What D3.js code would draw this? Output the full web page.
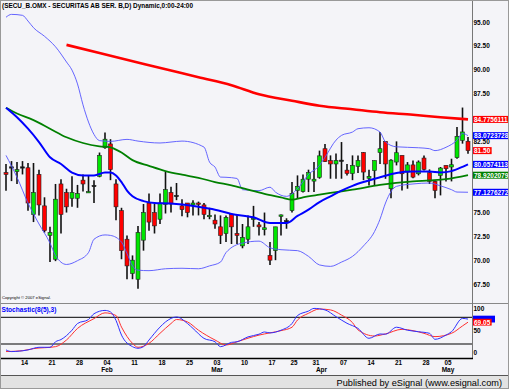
<!DOCTYPE html>
<html>
<head>
<meta charset="utf-8">
<script src="https://cdn.jsdelivr.net/npm/d3@7"></script>
<style>
  body { margin: 0; background: #fff; }
  svg { display: block; font-family: "Liberation Sans", Arial, sans-serif; }
</style>
</head>
<body>
<div id="chart"></div>
<script>
// trading days, 2008 (MM-DD)
const dates = [
  "01-09","01-10","01-11","01-14","01-15","01-16","01-17","01-18","01-21","01-22",
  "01-23","01-24","01-25","01-28","01-29","01-30","01-31","02-01","02-04","02-05",
  "02-06","02-07","02-08","02-11","02-12","02-13","02-14","02-15","02-18","02-19",
  "02-20","02-21","02-22","02-25","02-26","02-27","02-28","02-29","03-03","03-04",
  "03-05","03-06","03-07","03-10","03-11","03-12","03-13","03-14","03-17","03-18",
  "03-19","03-20","03-25","03-26","03-27","03-28","03-31","04-01","04-02","04-03",
  "04-04","04-07","04-08","04-09","04-10","04-11","04-14","04-15","04-16","04-17",
  "04-18","04-21","04-22","04-23","04-24","04-25","04-28","04-29","04-30","05-02",
  "05-05","05-06","05-07","05-08","05-09"
];

const openP = [
  79.2, 79.8, 79.3, 79.8, 79.7, 74.8, 79.0, 75.7, 72.6, 70.1,
  78.0, 77.1, 76.5, 76.5, 78.4, 77.1, 77.85, 78.8, 81.8, 82.2,
  78.0, 75.2, 72.2, 68.6, 68.0, 72.1, 76.0, 75.0, 74.3, 75.85,
  77.1, 76.8, 75.7, 76.0, 75.8, 76.0, 75.8, 74.6, 74.2, 73.5,
  72.8, 74.8, 72.8, 71.5, 72.2, 74.3, 73.7, 73.2, 70.5, 71.0,
  74.6, 74.15, 75.2, 77.3, 77.2, 78.5, 78.3, 78.7, 81.7, 80.45,
  80.1, 80.5, 79.45, 79.1, 79.85, 81.3, 78.6, 79.4, 81.3, 82.47,
  77.5, 80.3, 81.0, 79.25, 80.0, 79.07, 80.72, 79.18, 78.27, 78.9,
  79.95, 79.78, 80.76, 82.58, 82.48
];
const highP = [
  80.1, 80.4, 80.3, 80.4, 80.2, 80.2, 79.5, 76.6, 73.5, 78.0,
  78.5, 77.5, 78.8, 77.9, 79.0, 78.9, 78.4, 81.3, 83.4, 82.7,
  78.5, 75.5, 72.6, 70.5, 73.6, 75.9, 77.0, 75.9, 77.0, 79.3,
  77.7, 78.1, 76.4, 76.0, 76.3, 76.15, 76.0, 75.5, 74.8, 74.7,
  74.7, 74.9, 74.8, 73.8, 74.7, 75.7, 74.0, 75.0, 71.9, 73.5,
  74.8, 74.4, 78.2, 78.9, 79.0, 79.5, 80.3, 81.5, 82.2, 81.0,
  81.2, 82.4, 80.1, 81.0, 81.0, 81.35, 79.5, 80.45, 83.45, 82.5,
  80.6, 82.47, 81.0, 80.3, 80.47, 80.47, 81.0, 79.53, 78.37, 79.78,
  79.95, 80.65, 83.98, 86.02, 82.93
];
const lowP = [
  77.3, 78.3, 78.0, 79.0, 75.2, 74.0, 74.7, 72.9, 69.8, 69.9,
  72.8, 75.0, 75.6, 75.5, 77.2, 77.1, 76.0, 78.7, 81.7, 78.4,
  74.2, 70.1, 68.0, 68.0, 67.0, 71.0, 73.1, 72.8, 73.8, 74.9,
  75.0, 76.3, 74.6, 74.5, 74.7, 74.7, 74.3, 74.3, 73.3, 71.7,
  71.9, 71.7, 71.7, 71.25, 71.7, 73.5, 72.6, 72.6, 69.5, 70.0,
  72.6, 73.3, 75.0, 76.5, 77.1, 77.15, 77.15, 78.55, 80.3, 78.55,
  78.55, 78.55, 78.9, 78.4, 79.15, 78.4, 77.85, 77.85, 80.1, 78.54,
  76.5, 79.95, 77.32, 77.5, 78.6, 78.9, 79.42, 78.0, 76.5, 76.8,
  78.27, 78.27, 80.65, 82.23, 81.18
];
const closeP = [
  79.0, 79.8, 79.5, 79.8, 76.0, 77.1, 75.8, 73.1, 72.9, 76.4,
  74.8, 75.6, 77.1, 77.0, 78.0, 77.2, 77.85, 81.0, 82.7, 79.5,
  75.6, 71.0, 69.4, 70.0, 72.9, 75.0, 74.0, 73.6, 76.0, 77.4,
  75.9, 76.8, 75.3, 75.0, 76.0, 75.9, 74.8, 74.7, 73.8, 72.6,
  74.5, 73.5, 72.6, 72.4, 73.5, 74.4, 73.5, 73.4, 70.0, 73.5,
  74.75, 74.15, 77.0, 77.75, 78.5, 79.2, 78.5, 80.95, 80.35, 80.1,
  80.45, 80.5, 79.1, 79.95, 80.45, 79.25, 78.8, 80.45, 81.7, 80.1,
  80.5, 81.28, 79.07, 80.0, 78.72, 80.3, 79.53, 78.27, 77.32, 79.67,
  79.6, 80.02, 83.0, 83.46, 81.5
];

// studies as [date, value]
const ma200 = [
  ["01-24",92.6],["02-01",91.74],["02-14",90.47],["02-27",89.21],["03-06",88.37],
  ["03-13",87.42],["03-25",86.74],["04-01",86.21],["04-09",85.84],["04-16",85.53],
  ["04-24",85.26],["05-02",85.0],["05-09",84.78]
];
const ma50 = [
  ["01-09",86.0],["01-11",85.4],["01-16",84.7],["01-21",83.8],["01-24",82.9],
  ["01-29",82.3],["02-01",81.95],["02-05",81.85],["02-06",81.6],["02-07",81.3],
  ["02-11",80.5],["02-14",79.9],["02-19",79.35],["02-22",78.97],["02-27",78.65],
  ["03-03",78.2],["03-06",77.85],["03-11",77.4],["03-14",76.97],["03-19",76.6],
  ["03-25",76.35],["03-27",76.6],["04-01",76.88],["04-04",77.14],["04-09",77.4],
  ["04-16",77.9],["04-24",78.27],["04-29",78.37],["05-05",78.5],["05-09",78.92]
];
const ma20 = [
  ["01-09",86.0],["01-11",85.0],["01-15",83.8],["01-17",82.4],["01-21",80.8],
  ["01-23",80.1],["01-25",79.2],["01-29",78.9],["01-31",78.9],["02-04",79.2],
  ["02-05",79.2],["02-06",78.9],["02-07",78.2],["02-08",77.3],["02-11",76.7],
  ["02-13",76.2],["02-15",76.0],["02-20",75.95],["02-27",75.6],["03-03",75.3],
  ["03-06",74.85],["03-12",74.5],["03-17",73.9],["03-20",73.9],["03-26",74.65],
  ["03-28",75.3],["04-01",76.1],["04-03",76.7],["04-07",77.3],["04-09",77.8],
  ["04-11",78.2],["04-16",78.7],["04-21",79.15],["04-24",79.3],["04-29",79.3],
  ["05-02",79.2],["05-06",79.35],["05-08",79.8],["05-09",80.06]
];
const bbUpper = [
  ["01-09",95.5],["01-10",95.8],["01-14",95.7],["01-15",95.1],["01-16",94.4],
  ["01-18",93.5],["01-22",92.4],["01-24",90.8],["01-25",89.95],["01-28",88.5],
  ["01-29",86.3],["01-30",84.5],["01-31",83.2],["02-01",82.55],["02-05",82.47],
  ["02-08",82.68],["02-12",82.5],["02-18",82.3],["02-20",82.4],["02-22",82.5],
  ["02-28",81.87],["02-29",80.3],["03-03",79.77],["03-04",78.72],["03-05",78.7],
  ["03-07",78.58],["03-10",77.4],["03-13",77.3],["03-17",77.66],["03-18",77.14],
  ["03-20",76.7],["03-26",77.5],["03-28",79.0],["04-01",79.95],["04-02",80.8],
  ["04-04",82.6],["04-07",83.1],["04-09",83.45],["04-10",83.8],["04-14",83.9],
  ["04-16",83.45],["04-17",82.4],["04-21",81.9],["04-25",81.8],["04-29",81.7],
  ["04-30",81.5],["05-05",81.85],["05-07",82.6],["05-08",83.3],["05-09",83.07]
];
const bbLower = [
  ["01-09",81.0],["01-11",78.7],["01-15",76.0],["01-17",73.8],["01-21",71.8],
  ["01-22",70.5],["01-24",69.55],["01-28",69.95],["01-30",70.8],["01-31",72.2],
  ["02-04",72.65],["02-05",72.6],["02-07",71.9],["02-08",70.7],["02-11",69.4],
  ["02-12",68.95],["02-14",68.9],["02-19",69.1],["02-22",69.15],["02-27",69.1],
  ["02-29",69.4],["03-04",69.8],["03-05",70.8],["03-10",71.8],["03-13",72.0],
  ["03-17",71.3],["03-19",71.1],["03-26",71.0],["03-28",70.4],["04-01",69.5],
  ["04-03",69.35],["04-07",69.8],["04-09",70.4],["04-11",71.5],["04-15",73.0],
  ["04-16",74.3],["04-17",76.0],["04-18",77.2],["04-21",77.75],["04-24",78.0],
  ["04-29",78.1],["05-02",77.8],["05-06",77.4],["05-07",77.15],["05-09",77.13]
];
const stochK = [
  ["01-09",6.7],["01-10",3],["01-15",6.7],["01-17",12.6],["01-21",12.6],["01-22",25],
  ["01-23",30],["01-25",51],["01-28",66],["01-30",75],["01-31",88],["02-04",95.5],
  ["02-05",92],["02-06",73],["02-07",40],["02-11",14],["02-12",10.4],["02-13",14],
  ["02-14",29],["02-18",58],["02-19",69.6],["02-21",80.7],["02-25",66],["02-26",55],
  ["02-28",32.6],["03-03",25],["03-04",14],["03-06",23.7],["03-07",25],["03-11",36],
  ["03-13",42],["03-14",47],["03-17",45],["03-19",51],["03-25",66],["03-26",84],
  ["03-28",94],["03-31",100],["04-02",96.6],["04-04",81.5],["04-08",66.5],["04-10",55],
  ["04-14",32.8],["04-16",42.5],["04-17",42],["04-21",57.7],["04-23",51],["04-25",47.6],
  ["04-29",44],["04-30",30.5],["05-05",40],["05-06",47.6],["05-08",77.5],["05-09",76]
];
const stochD = [
  ["01-09",3],["01-14",5],["01-16",9.6],["01-22",14],["01-24",29],["01-28",55],
  ["01-31",77],["02-04",90],["02-06",84],["02-07",58],["02-11",21.5],["02-12",12.6],
  ["02-14",21.5],["02-18",44],["02-20",66],["02-21",75],["02-25",69.6],["02-27",51],
  ["03-03",29],["03-05",17.8],["03-07",25],["03-11",33],["03-13",40],["03-17",45],
  ["03-19",50],["03-25",57.7],["03-26",74],["03-28",89],["04-01",98.6],["04-03",96.6],
  ["04-07",85],["04-09",68],["04-10",51.7],["04-15",38],["04-17",42.7],["04-22",53],
  ["04-24",50],["04-28",44],["04-30",36.6],["05-06",44],["05-08",60.6],["05-09",69.05]
];

const tickDates = ["01-14","01-21","01-28","02-04","02-11","02-18","02-25","03-03","03-10",
  "03-17","03-25","03-31","04-07","04-14","04-21","04-28","05-05"];
const monthDates = ["02-04","03-03","04-01","05-05"];
const monthNames = ["Feb","Mar","Apr","May"];
const priceTicks = [67.5, 70, 72.5, 75, 77.5, 80, 82.5, 85, 87.5, 90, 92.5, 95];
const stochTicks = [0, 50, 100];

// last-value badges on the price axis
const endTexts = ["84.7756111","83.0723728","81.50","80.0574113","78.9202079","77.1276272"];
const endColors = ["#ff0000","#0000ff","#ff0000","#0000ff","#008000","#0000ff"];
// stochastic: %K badge sits under the %D badge, only its edge shows
const stochEndK = 76.0;
const stochEndD = "69.05";

const width = 509, height = 389, axisX = 472;

const svg = d3.select("#chart").append("svg")
  .attr("width", width).attr("height", height);

svg.append("rect").attr("width", width).attr("height", height).attr("fill", "#f4f4f8");

const x = d3.scalePoint().domain(dates).range([6, 468]);
const y = d3.scaleLinear().domain([67.5, 95]).range([284, 22]);
const ys = d3.scaleLinear().domain([0, 100]).range([352.9, 308.4]);

// title + copyright
svg.append("text")
  .attr("x", 2).attr("y", 8)
  .attr("font-size", 7).attr("font-weight", "bold")
  .attr("textLength", 191).attr("lengthAdjust", "spacingAndGlyphs")
  .text("(SECU_B.OMX - SECURITAS AB SER. B,D) Dynamic,0:00-24:00");

svg.append("text")
  .attr("x", 2).attr("y", 299)
  .attr("font-size", 4.2)
  .text("Copyright \u00a9 2007 eSignal.");

// panel frame lines
svg.append("line").attr("x1", 0).attr("x2", width).attr("y1", 303.5).attr("y2", 303.5)
  .attr("stroke", "#888").attr("stroke-width", 1);
svg.append("line").attr("x1", axisX + 0.5).attr("x2", axisX + 0.5).attr("y1", 0).attr("y2", 358)
  .attr("stroke", "#777").attr("stroke-width", 1);

// candles
const candles = dates.map((d, i) => ({ date: d, o: openP[i], h: highP[i], l: lowP[i], c: closeP[i] }));
const cg = svg.append("g");
cg.selectAll("line")
  .data(candles)
  .join("line")
  .attr("x1", d => x(d.date)).attr("x2", d => x(d.date))
  .attr("y1", d => y(d.h)).attr("y2", d => y(d.l))
  .attr("stroke", "#111").attr("stroke-width", 1.6);
cg.selectAll("rect")
  .data(candles)
  .join("rect")
  .attr("x", d => x(d.date) - 2)
  .attr("width", 4)
  .attr("y", d => y(Math.max(d.o, d.c)))
  .attr("height", d => Math.max(1.3, Math.abs(y(d.o) - y(d.c))))
  .attr("fill", d => d.c > d.o ? "#00e600" : d.c < d.o ? "#ff0000" : "#111")
  .attr("stroke", "#222").attr("stroke-width", 0.6);

// studies
const priceLine = d3.line().x(d => x(d[0])).y(d => y(d[1])).curve(d3.curveMonotoneX);
const studies = [
  [bbUpper, "#5555ff", 0.9],
  [bbLower, "#5555ff", 0.9],
  [ma200, "#ff0000", 2.6],
  [ma50, "#008000", 1.8],
  [ma20, "#0000ff", 2]
];
studies.forEach(([series, color, w]) => {
  svg.append("path")
    .attr("d", priceLine(series))
    .attr("fill", "none")
    .attr("stroke", color)
    .attr("stroke-width", w);
});

// price axis: labels that sit under a badge are hidden, as on the original
const badgeYs = endTexts.map(t => y(+t));
const shownTicks = priceTicks.filter(v => d3.min(badgeYs, b => Math.abs(b - y(v))) > 4.5);
const yAxis = svg.append("g")
  .attr("transform", `translate(${axisX},0)`)
  .call(d3.axisRight(y).tickValues(shownTicks).tickFormat(d3.format(".2f")).tickSize(0).tickPadding(1.5));
yAxis.select(".domain").remove();
yAxis.selectAll("text").attr("font-size", 6.5).attr("font-weight", "bold")
  .attr("font-family", "Liberation Sans, Arial, sans-serif").attr("fill", "#000");

// last-value badges
endTexts.forEach((t, i) => {
  const v = +t;
  const g = svg.append("g").attr("transform", `translate(${axisX + 1},${y(v)})`);
  const txt = g.append("text")
    .attr("x", 1).attr("dy", "0.36em")
    .attr("font-size", 6.5).attr("font-weight", "bold").attr("fill", "#fff")
    .text(t);
  const bb = txt.node().getBBox();
  g.insert("rect", "text")
    .attr("x", 0).attr("y", -3.5)
    .attr("width", bb.width + 2).attr("height", 7)
    .attr("fill", endColors[i]);
});

// stochastic panel
svg.append("text")
  .attr("x", 1.5).attr("y", 311.5)
  .attr("font-size", 6.6).attr("font-weight", "bold").attr("fill", "#0000ff")
  .text("Stochastic(8(5),3)");

[80, 20].forEach(v => {
  svg.append("line")
    .attr("x1", 0).attr("x2", axisX).attr("y1", ys(v)).attr("y2", ys(v))
    .attr("stroke", "#000").attr("stroke-width", 1);
});

const stochLine = d3.line().x(d => x(d[0])).y(d => ys(d[1])).curve(d3.curveMonotoneX);
svg.append("path").attr("d", stochLine(stochD))
  .attr("fill", "none").attr("stroke", "#ff3030").attr("stroke-width", 1);
svg.append("path").attr("d", stochLine(stochK))
  .attr("fill", "none").attr("stroke", "#3030ff").attr("stroke-width", 1);

const sAxis = svg.append("g")
  .attr("transform", `translate(${axisX},0)`)
  .call(d3.axisRight(ys).tickValues(stochTicks).tickFormat(d3.format("d")).tickSize(0).tickPadding(1.5));
sAxis.select(".domain").remove();
sAxis.selectAll("text").attr("font-size", 6.5).attr("font-weight", "bold")
  .attr("font-family", "Liberation Sans, Arial, sans-serif").attr("fill", "#000");

svg.append("rect")
  .attr("x", axisX + 1).attr("y", ys(stochEndK) - 3.4)
  .attr("width", 22).attr("height", 6.8)
  .attr("fill", "#0000ff");
const dBadge = svg.append("g").attr("transform", `translate(${axisX + 1},${ys(+stochEndD)})`);
const dTxt = dBadge.append("text")
  .attr("x", 1).attr("dy", "0.36em")
  .attr("font-size", 6.5).attr("font-weight", "bold").attr("fill", "#fff")
  .text(stochEndD);
dBadge.insert("rect", "text")
  .attr("x", 0).attr("y", -3.4)
  .attr("width", dTxt.node().getBBox().width + 2).attr("height", 6.8)
  .attr("fill", "#ff0000");

// bottom of the stochastic panel
svg.append("line").attr("x1", 0).attr("x2", axisX + 1).attr("y1", 358.5).attr("y2", 358.5)
  .attr("stroke", "#000").attr("stroke-width", 1.6);

// date axis
const xAxis = svg.append("g")
  .attr("transform", "translate(1.5,358)")
  .call(d3.axisBottom(x).tickValues(tickDates).tickFormat(d => d.slice(3)).tickSize(0).tickPadding(2.2));
xAxis.select(".domain").remove();
xAxis.selectAll("text").attr("font-size", 6.3).attr("font-weight", "bold")
  .attr("font-family", "Liberation Sans, Arial, sans-serif").attr("fill", "#000");

const mAxis = svg.append("g")
  .attr("transform", "translate(1.5,358)")
  .call(d3.axisBottom(x).tickValues(monthDates).tickFormat((d, i) => monthNames[i]).tickSize(0).tickPadding(9.6));
mAxis.select(".domain").remove();
mAxis.selectAll("text").attr("font-size", 6.5).attr("font-weight", "bold")
  .attr("font-family", "Liberation Sans, Arial, sans-serif").attr("fill", "#000");

// footer
svg.append("rect").attr("x", 0).attr("y", 375).attr("width", width).attr("height", height - 375)
  .attr("fill", "#e2e2e2");
svg.append("line").attr("x1", 0).attr("x2", width).attr("y1", 375.5).attr("y2", 375.5)
  .attr("stroke", "#555").attr("stroke-width", 1);
svg.append("text")
  .attr("x", 502).attr("y", 385.5)
  .attr("text-anchor", "end")
  .attr("font-size", 9.2)
  .attr("fill", "#000")
  .text("Published by eSignal (www.esignal.com)");

// outer frame
svg.append("rect").attr("x", 0.5).attr("y", 0.5).attr("width", width - 1).attr("height", height - 1)
  .attr("fill", "none").attr("stroke", "#999");
</script>
</body>
</html>
